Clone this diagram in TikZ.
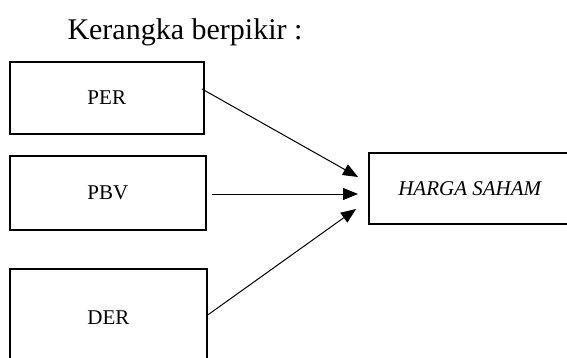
\documentclass[tikz,border=0pt]{standalone}
\usepackage{fontspec}
\setmainfont{Liberation Serif}
\usetikzlibrary{arrows.meta}
\begin{document}
\begin{tikzpicture}[x=1pt,y=-1pt,
  varbox/.style={draw, line width=2pt, anchor=north west, inner sep=0pt,
    font=\fontsize{21}{24}\selectfont, align=center},
  conn/.style={line width=1pt, -{Triangle[length=15pt,width=12pt]}}]
\useasboundingbox (0,0) rectangle (567,358);
\node[anchor=base west, inner sep=0pt, font=\fontsize{30}{34}\selectfont] (title) at (67.3,39.3) {Kerangka berpikir :};
\node[varbox, minimum width=194.5pt, minimum height=72pt] (per) at (8.5,61) {PER};
\node[varbox, minimum width=196.5pt, minimum height=74pt] (pbv) at (8.5,155) {PBV};
\node[varbox, minimum width=196.7pt, minimum height=98pt] (der) at (9,268) {DER};
\node[varbox, minimum width=202pt, minimum height=71pt, font=\fontsize{21}{24}\selectfont\itshape] (harga) at (367.7,152) {HARGA SAHAM};
\coordinate (perout) at (202,89);
\coordinate (pbvout) at (212,194);
\coordinate (derout) at (206.7,315.7);
\coordinate (in1) at (358,177);
\coordinate (in2) at (358,194);
\coordinate (in3) at (356,209);
\draw[conn] (perout) -- (in1);
\draw[conn] (pbvout) -- (in2);
\draw[conn] (derout) -- (in3);
\end{tikzpicture}
\end{document}
